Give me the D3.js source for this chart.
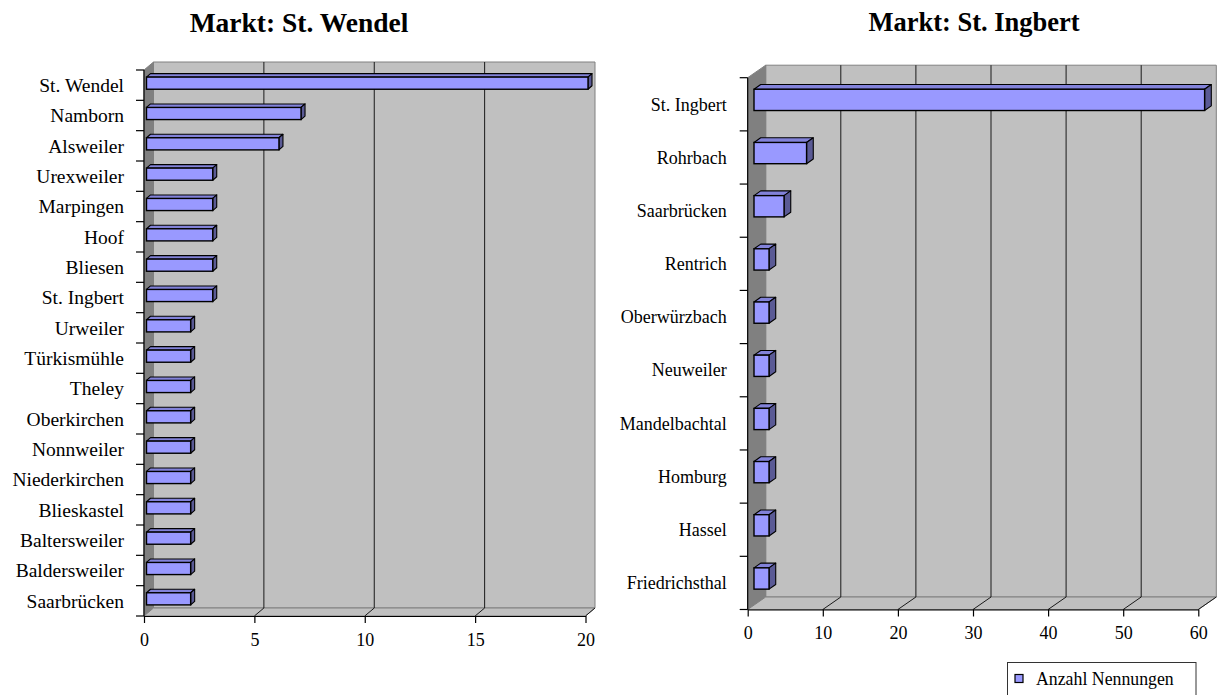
<!DOCTYPE html>
<html>
<head>
<meta charset="utf-8">
<script src="https://cdn.jsdelivr.net/npm/d3@7"></script>
<style>
  html, body { margin: 0; padding: 0; background: #fff; }
  svg { display: block; font-family: "Liberation Serif", "Times New Roman", serif; }
</style>
</head>
<body>
<svg id="chart" width="1218" height="695"></svg>
<script>
// Market St. Wendel: number of mentions per home town
const wendelCategories = ["St. Wendel", "Namborn", "Alsweiler", "Urexweiler", "Marpingen", "Hoof",
  "Bliesen", "St. Ingbert", "Urweiler", "Türkismühle", "Theley", "Oberkirchen", "Nonnweiler",
  "Niederkirchen", "Blieskastel", "Baltersweiler", "Baldersweiler", "Saarbrücken"];
const wendelValues = [20, 7, 6, 3, 3, 3, 3, 3, 2, 2, 2, 2, 2, 2, 2, 2, 2, 2];
const wendelTicks = [0, 5, 10, 15, 20];

// Market St. Ingbert: number of mentions per home town
const ingbertCategories = ["St. Ingbert", "Rohrbach", "Saarbrücken", "Rentrich", "Oberwürzbach",
  "Neuweiler", "Mandelbachtal", "Homburg", "Hassel", "Friedrichsthal"];
const ingbertValues = [60, 7, 4, 2, 2, 2, 2, 2, 2, 2];
const ingbertTicks = [0, 10, 20, 30, 40, 50, 60];

const seriesName = "Anzahl Nennungen";

const svg = d3.select("#chart");

function shade(c, k) { return d3.color(c).darker(k).formatHex(); }
const barColor = "#9999ff";

function drawChart(cfg) {
  const g = svg.append("g");
  const x = d3.scaleLinear().domain([0, d3.max(cfg.ticks)]).range([cfg.x0, cfg.x1]);
  const y = d3.scaleBand().domain(cfg.categories).range([cfg.yTop, cfg.yBot]).paddingInner(0).paddingOuter(0);
  const dx = cfg.depth[0], dy = cfg.depth[1];
  const pts = a => a.map(p => p.join(",")).join(" ");

  // walls and floor
  g.append("polygon").attr("points", pts([[cfg.x0 + dx, cfg.yTop + dy], [cfg.x1 + dx, cfg.yTop + dy],
      [cfg.x1 + dx, cfg.yBot + dy], [cfg.x0 + dx, cfg.yBot + dy]]))
    .attr("fill", "#c0c0c0").attr("stroke", "#808080").attr("stroke-width", 1);
  g.append("polygon").attr("points", pts([[cfg.x0, cfg.yTop], [cfg.x0 + dx, cfg.yTop + dy],
      [cfg.x0 + dx, cfg.yBot + dy], [cfg.x0, cfg.yBot]]))
    .attr("fill", "#808080").attr("stroke", "#808080").attr("stroke-width", 1);
  g.append("polygon").attr("points", pts([[cfg.x0, cfg.yBot], [cfg.x0 + dx, cfg.yBot + dy],
      [cfg.x1 + dx, cfg.yBot + dy], [cfg.x1, cfg.yBot]]))
    .attr("fill", "#c0c0c0").attr("stroke", "#808080").attr("stroke-width", 1);

  // gridlines on the back wall and the floor
  const inner = cfg.ticks.filter((t, i) => i > 0 && i < cfg.ticks.length - 1);
  g.selectAll("line.grid").data(inner).join("line").attr("class", "grid")
    .attr("x1", d => x(d) + dx).attr("x2", d => x(d) + dx)
    .attr("y1", cfg.yTop + dy).attr("y2", cfg.yBot + dy)
    .attr("stroke", "#1a1a1a").attr("stroke-width", 1);
  g.selectAll("line.floor").data(cfg.ticks.slice(1)).join("line").attr("class", "floor")
    .attr("x1", d => x(d)).attr("x2", d => x(d) + dx)
    .attr("y1", cfg.yBot).attr("y2", cfg.yBot + dy)
    .attr("stroke", "#1a1a1a").attr("stroke-width", 1);

  // bars as 3D boxes
  const bh = y.bandwidth() * cfg.barRatio;
  const fx = cfg.barFront[0], fy = cfg.barFront[1];
  const bx = cfg.barDepth[0], by = cfg.barDepth[1];
  const bars = g.selectAll("g.bar").data(cfg.categories.map((c, i) => ({ c, v: cfg.values[i] })))
    .join("g").attr("class", "bar");
  const left = () => x(0) + fx;
  const right = d => x(d.v) + fx;
  const top = d => y(d.c) + y.bandwidth() / 2 - bh / 2 + fy;
  bars.append("polygon").attr("points", d => pts([[left(), top(d)], [right(d), top(d)],
      [right(d) + bx, top(d) + by], [left() + bx, top(d) + by]]))
    .attr("fill", shade(barColor, 0.45)).attr("stroke", "#000").attr("stroke-width", 1.1)
    .attr("stroke-linejoin", "round");
  bars.append("polygon").attr("points", d => pts([[right(d), top(d)], [right(d) + bx, top(d) + by],
      [right(d) + bx, top(d) + by + bh], [right(d), top(d) + bh]]))
    .attr("fill", shade(barColor, 1.5)).attr("stroke", "#000").attr("stroke-width", 1.1)
    .attr("stroke-linejoin", "round");
  bars.append("rect").attr("x", left()).attr("y", d => top(d))
    .attr("width", d => right(d) - left()).attr("height", bh)
    .attr("fill", barColor).attr("stroke", "#000").attr("stroke-width", 1.4);

  // value axis
  const xAxis = g.append("g").attr("transform", `translate(0,${cfg.yBot})`)
    .call(d3.axisBottom(x).tickValues(cfg.ticks).tickSizeInner(7).tickSizeOuter(0).tickPadding(10));
  xAxis.select(".domain").attr("stroke", "#000").attr("stroke-width", 1.2);
  xAxis.selectAll(".tick line").attr("stroke", "#000").attr("stroke-width", 1.2);
  xAxis.selectAll(".tick text").attr("font-size", cfg.tickFont).attr("fill", "#000")
    .attr("font-family", "Liberation Serif, Times New Roman, serif");

  // category axis: ticks at band boundaries, labels at band centres
  const bounds = cfg.categories.map(c => y(c)).concat([cfg.yBot]);
  g.append("line").attr("x1", cfg.x0).attr("x2", cfg.x0).attr("y1", cfg.yTop).attr("y2", cfg.yBot)
    .attr("stroke", "#000").attr("stroke-width", 1.2);
  g.selectAll("line.ctick").data(bounds).join("line").attr("class", "ctick")
    .attr("x1", cfg.x0 - 8).attr("x2", cfg.x0).attr("y1", d => d).attr("y2", d => d)
    .attr("stroke", "#000").attr("stroke-width", 1.2);
  g.selectAll("text.clabel").data(cfg.categories).join("text").attr("class", "clabel")
    .attr("x", cfg.x0 - cfg.labelGap).attr("y", d => y(d) + y.bandwidth() / 2)
    .attr("dy", "0.35em").attr("text-anchor", "end")
    .attr("font-size", cfg.labelFont).attr("fill", "#000").text(d => d);

  // title
  g.append("text").attr("x", cfg.titleX).attr("y", cfg.titleY).attr("text-anchor", "middle")
    .attr("font-weight", "bold").attr("font-size", cfg.titleFont).attr("fill", "#000").text(cfg.title);
}

drawChart({
  title: "Markt: St. Wendel", titleX: 299, titleY: 32, titleFont: 27.5,
  categories: wendelCategories, values: wendelValues, ticks: wendelTicks,
  x0: 144, x1: 585.5, yTop: 70, yBot: 616, depth: [9.5, -8],
  barFront: [2.5, -2], barDepth: [4, -3.5], barRatio: 0.4,
  labelFont: 19.5, labelGap: 20, tickFont: 18
});

drawChart({
  title: "Markt: St. Ingbert", titleX: 974, titleY: 31, titleFont: 26.5,
  categories: ingbertCategories, values: ingbertValues, ticks: ingbertTicks,
  x0: 747.7, x1: 1198.3, yTop: 77.7, yBot: 609.5, depth: [18, -12.5],
  barFront: [6.3, -4.4], barDepth: [6.7, -4.7], barRatio: 0.4,
  labelFont: 18, labelGap: 21, tickFont: 18
});

// legend
const legend = svg.append("g");
legend.append("rect").attr("x", 1007.5).attr("y", 662.5).attr("width", 188.5).attr("height", 40)
  .attr("fill", "#fff").attr("stroke", "#333").attr("stroke-width", 1);
legend.append("rect").attr("x", 1015).attr("y", 674.5).attr("width", 8).attr("height", 8)
  .attr("fill", barColor).attr("stroke", "#000").attr("stroke-width", 1.2);
legend.append("text").attr("x", 1036).attr("y", 684.5).attr("font-size", 17.8).attr("fill", "#000")
  .text(seriesName);
</script>
</body>
</html>
